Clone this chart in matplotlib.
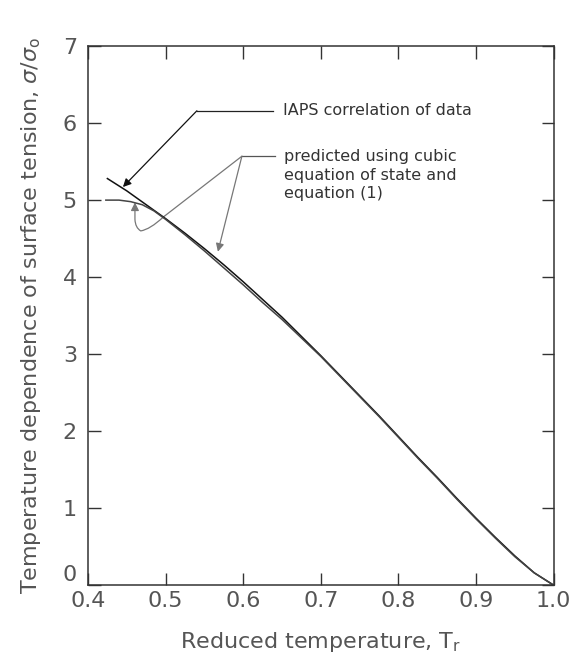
import matplotlib
matplotlib.use("Agg")
import matplotlib.pyplot as plt
from matplotlib.patches import FancyArrowPatch
from matplotlib.path import Path

# Data
tr_iaps = [0.425, 0.45, 0.475, 0.5, 0.525, 0.55, 0.575, 0.6, 0.625, 0.65, 0.675, 0.7,
           0.725, 0.75, 0.775, 0.8, 0.825, 0.85, 0.875, 0.9, 0.925, 0.95, 0.975, 1.0]
sig_iaps = [5.28, 5.12, 4.94, 4.76, 4.57, 4.37, 4.16, 3.94, 3.71, 3.48, 3.23, 2.98,
            2.72, 2.46, 2.20, 1.93, 1.66, 1.40, 1.13, 0.87, 0.62, 0.38, 0.16, 0.0]

tr_pred = [0.423, 0.44, 0.455, 0.47, 0.485, 0.5, 0.525, 0.55, 0.575, 0.6, 0.625, 0.65,
           0.675, 0.7, 0.725, 0.75, 0.775, 0.8, 0.825, 0.85, 0.875, 0.9, 0.925, 0.95, 0.975, 1.0]
sig_pred = [5.00, 5.00, 4.98, 4.94, 4.86, 4.75, 4.55, 4.34, 4.12, 3.90, 3.67, 3.45,
            3.21, 2.97, 2.71, 2.45, 2.19, 1.92, 1.65, 1.39, 1.12, 0.86, 0.61, 0.37, 0.16, 0.0]

xticks = [0.4, 0.5, 0.6, 0.7, 0.8, 0.9, 1.0]
xticklabels = ["0.4", "0.5", "0.6", "0.7", "0.8", "0.9", "1.0"]
yticks = [0, 1, 2, 3, 4, 5, 6, 7]

text_iaps = "IAPS correlation of data"
text_pred = "predicted using cubic\nequation of state and\nequation (1)"

plt.rcParams['font.family'] = ['DejaVu Sans']
gray_txt = "#555555"

fig = plt.figure(figsize=(5.77, 6.68), dpi=100)
ax = fig.add_axes([0.1525, 0.124, 0.807, 0.807])

ax.plot(tr_iaps, sig_iaps, color="#111111", lw=1.1)
ax.plot(tr_pred, sig_pred, color="#444444", lw=1.1)

ax.set_xlim(0.4, 1.0)
ax.set_ylim(0, 7)
ax.set_xticks(xticks)
ax.set_xticklabels(xticklabels)
ax.set_yticks(yticks)
ax.tick_params(direction="in", length=9, width=1.0, color="#333333",
               top=True, right=True, labelsize=16, labelcolor=gray_txt)
ax.tick_params(axis="x", pad=4)
ax.tick_params(axis="y", pad=8)
ax.get_yticklabels()[0].set_va("bottom")
for s in ax.spines.values():
    s.set_linewidth(1.1)
    s.set_color("#333333")

ax.set_xlabel(r"Reduced temperature, T$_\mathregular{r}$", fontsize=16, color=gray_txt, labelpad=14)
ax.set_ylabel(r"Temperature dependence of surface tension, $\sigma/\sigma_\mathregular{o}$",
              fontsize=16, color=gray_txt, labelpad=14)

# IAPS annotation
ax.text(0.651, 6.16, text_iaps, fontsize=11.5, color="#333333", va="center", ha="left")
ax.plot([0.6382, 0.5403], [6.16, 6.16], color="#222222", lw=0.9)
ax.annotate("", xy=(0.445, 5.17), xytext=(0.5403, 6.16),
            arrowprops=dict(arrowstyle="-|>", color="#111111", lw=0.9,
                            mutation_scale=12, shrinkA=0, shrinkB=0))

# predicted annotation
ax.text(0.652, 5.66, text_pred, fontsize=11.5, color="#333333", va="top", ha="left",
        linespacing=1.3)
ax.plot([0.641, 0.5983], [5.57, 5.57], color="#555555", lw=0.9)
ax.annotate("", xy=(0.5674, 4.33), xytext=(0.5983, 5.57),
            arrowprops=dict(arrowstyle="-|>", color="#777777", lw=0.9,
                            mutation_scale=12, shrinkA=0, shrinkB=0))
verts = [(0.5983, 5.57), (0.497, 4.78),
         (0.480, 4.62), (0.468, 4.60),
         (0.461, 4.64), (0.4605, 4.75), (0.4605, 4.97)]
codes = [Path.MOVETO, Path.LINETO, Path.CURVE3, Path.CURVE3, Path.CURVE3, Path.CURVE3, Path.LINETO]
loop = FancyArrowPatch(path=Path(verts, codes), arrowstyle="-|>", color="#777777",
                       lw=0.9, mutation_scale=12, transform=ax.transData)
ax.add_patch(loop)

fig.savefig("out.png", dpi=100)
